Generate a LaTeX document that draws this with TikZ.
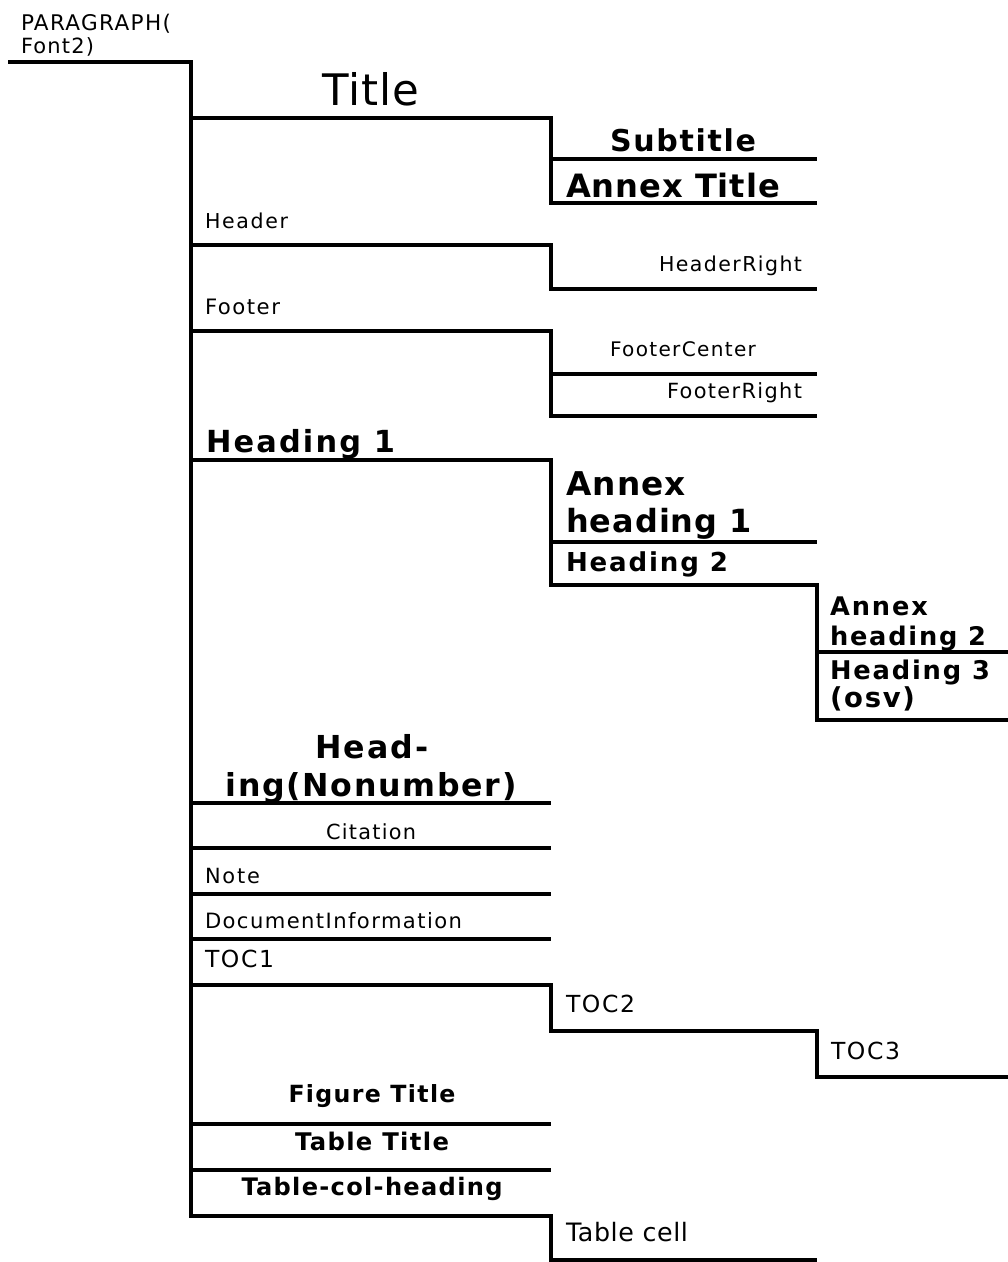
\documentclass[tikz,border=0pt]{standalone}
\usepackage{fontspec}
\setmainfont{DejaVu Sans}
\newdimen\fitw
% #1 size factor, #2 target width (pt), #3 letter gaps, #4 text
\newcommand\fitsp[4]{%
  \fontsize{10}{10}\selectfont
  \setbox0\hbox{#4}\fitw=\wd0
  \pgfmathsetmacro\fsz{#1*10*(#2)/\fitw}%
  \pgfmathsetmacro\lspv{(1-#1)*(#2)/(#3)/\fsz*100}%
  \fontsize{\fsz}{\fsz}\selectfont
  \edef\tmpa{\noexpand\addfontfeature{LetterSpace=\lspv}}\tmpa
  #4}
\begin{document}
\begin{tikzpicture}[x=1pt,y=-1pt,
  lbl/.style={inner sep=0pt, outer sep=0pt},
  bl/.style={lbl, font=\bfseries},
  wire/.style={draw=black, line width=3.5pt, line join=miter}]
\useasboundingbox (0,0) rectangle (1008,1262);
% ---- coordinates
\coordinate (r0) at (8,62);
\coordinate (t0) at (191,62);
\coordinate (a1) at (191,118); \coordinate (a2) at (551,118);
\coordinate (a3) at (551,159); \coordinate (a3r) at (817,159);
\coordinate (a4) at (551,203); \coordinate (a4r) at (817,203);
\coordinate (b1) at (191,245); \coordinate (b2) at (551,245);
\coordinate (b3) at (551,289); \coordinate (b3r) at (817,289);
\coordinate (c1) at (191,331); \coordinate (c2) at (551,331);
\coordinate (c3) at (551,374); \coordinate (c3r) at (817,374);
\coordinate (c4) at (551,416); \coordinate (c4r) at (817,416);
\coordinate (d1) at (191,460); \coordinate (d2) at (551,460);
\coordinate (d3) at (551,542); \coordinate (d3r) at (817,542);
\coordinate (d4) at (551,585); \coordinate (d4r) at (817,585);
\coordinate (d5) at (817,652); \coordinate (d5r) at (1008,652);
\coordinate (d6) at (817,720); \coordinate (d6r) at (1008,720);
\coordinate (e1) at (191,803); \coordinate (e1r) at (551,803);
\coordinate (e2) at (191,848); \coordinate (e2r) at (551,848);
\coordinate (e3) at (191,894); \coordinate (e3r) at (551,894);
\coordinate (e4) at (191,939); \coordinate (e4r) at (551,939);
\coordinate (f1) at (191,985); \coordinate (f2) at (551,985);
\coordinate (f3) at (551,1031); \coordinate (f4) at (817,1031);
\coordinate (f5) at (817,1077); \coordinate (f6) at (1008,1077);
\coordinate (g1) at (191,1124); \coordinate (g1r) at (551,1124);
\coordinate (g2) at (191,1170); \coordinate (g2r) at (551,1170);
\coordinate (g3) at (191,1216); \coordinate (g3a) at (551,1216);
\coordinate (g3b) at (551,1260); \coordinate (g3c) at (817,1260);
% ---- lines
\draw[wire] (r0) -- (t0) -- (g3) -- (g3a) -- (g3b) -- (g3c);
\draw[wire] (a1) -- (a2) -- (a4) -- (a4r);
\draw[wire] (a3) -- (a3r);
\draw[wire] (b1) -- (b2) -- (b3) -- (b3r);
\draw[wire] (c1) -- (c2) -- (c4) -- (c4r);
\draw[wire] (c3) -- (c3r);
\draw[wire] (d1) -- (d2) -- (d4) -- (d4r) -- (d6) -- (d6r);
\draw[wire] (d3) -- (d3r);
\draw[wire] (d5) -- (d5r);
\draw[wire] (e1) -- (e1r);
\draw[wire] (e2) -- (e2r);
\draw[wire] (e3) -- (e3r);
\draw[wire] (e4) -- (e4r);
\draw[wire] (f1) -- (f2) -- (f3) -- (f4) -- (f5) -- (f6);
\draw[wire] (g1) -- (g1r);
\draw[wire] (g2) -- (g2r);
% ---- labels
\node[lbl, anchor=base west] (p1) at (21,30) {\fitsp{0.92}{150}{9}{PARAGRAPH(}};
\node[lbl, anchor=base west] (p2) at (21,53) {\fitsp{0.92}{73}{5}{Font2)}};
\node[lbl, anchor=base] (title) at (371,105) {\fitsp{0.96}{97}{4}{Title}};
\node[bl, anchor=base] (sub) at (683,151) {\fitsp{0.92}{146}{7}{Subtitle}};
\node[bl, anchor=base west] (annt) at (566,197) {\fitsp{0.96}{214}{9}{Annex Title}};
\node[lbl, anchor=base west] (hdr) at (205,228) {\fitsp{0.9}{83}{5}{Header}};
\node[lbl, anchor=base east] (hdrR) at (802,271) {\fitsp{0.9}{143}{10}{HeaderRight}};
\node[lbl, anchor=base west] (ftr) at (205,314) {\fitsp{0.9}{75}{5}{Footer}};
\node[lbl, anchor=base] (ftrC) at (683,356) {\fitsp{0.9}{146}{11}{FooterCenter}};
\node[lbl, anchor=base east] (ftrR) at (802,398) {\fitsp{0.9}{135}{10}{FooterRight}};
\node[bl, anchor=base west] (h1) at (206,452) {\fitsp{0.92}{189}{7}{Heading 1}};
\node[bl, anchor=base west] (ah1a) at (566,495) {\fitsp{0.96}{120}{4}{Annex}};
\node[bl, anchor=base west] (ah1b) at (566,532) {\fitsp{0.96}{186}{7}{heading 1}};
\node[bl, anchor=base west] (h2) at (566,571) {\fitsp{0.92}{162}{7}{Heading 2}};
\node[bl, anchor=base west] (ah2a) at (830,615) {\fitsp{0.92}{98}{4}{Annex}};
\node[bl, anchor=base west] (ah2b) at (830,645) {\fitsp{0.92}{156}{7}{heading 2}};
\node[bl, anchor=base west] (h3a) at (830,679) {\fitsp{0.92}{160}{7}{Heading 3}};
\node[bl, anchor=base west] (h3b) at (830,707) {\fitsp{0.92}{85}{4}{(osv)}};
\node[bl, anchor=base] (nn1) at (372,758) {\fitsp{0.93}{113}{4}{Head-}};
\node[bl, anchor=base] (nn2) at (371,796) {\fitsp{0.93}{291}{12}{ing(Nonumber)}};
\node[lbl, anchor=base] (cit) at (371,839) {\fitsp{0.9}{90}{7}{Citation}};
\node[lbl, anchor=base west] (note) at (205,883) {\fitsp{0.9}{55}{3}{Note}};
\node[lbl, anchor=base west] (doc) at (205,928) {\fitsp{0.9}{257}{18}{DocumentInformation}};
\node[lbl, anchor=base west] (toc1) at (205,967) {\fitsp{0.93}{69}{3}{TOC1}};
\node[lbl, anchor=base west] (toc2) at (566,1012) {\fitsp{0.93}{69}{3}{TOC2}};
\node[lbl, anchor=base west] (toc3) at (831,1059) {\fitsp{0.93}{69}{3}{TOC3}};
\node[bl, anchor=base] (fig) at (372,1102) {\fitsp{0.92}{167}{10}{Figure Title}};
\node[bl, anchor=base] (tab) at (372,1150) {\fitsp{0.92}{154}{9}{Table Title}};
\node[bl, anchor=base] (tch) at (372,1195) {\fitsp{0.92}{261}{16}{Table-col-heading}};
\node[lbl, anchor=base west] (cell) at (566,1241) {\fitsp{0.96}{122}{8}{Table cell}};
\end{tikzpicture}
\end{document}
